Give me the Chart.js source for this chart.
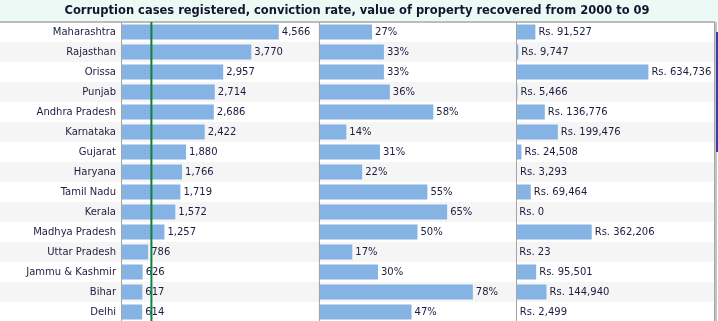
<!DOCTYPE html>
<html>
<head>
<meta charset="utf-8">
<script src="https://cdn.jsdelivr.net/npm/chart.js@4"></script>
<style>
html, body { margin: 0; padding: 0; overflow: hidden; background: #fff; }
#wrap { width: 718px; height: 321px; overflow: hidden; }
</style>
</head>
<body>
<div id="wrap"><canvas id="myBarChart" width="718" height="322"></canvas></div>
<script>
// DADOS
var states = ['Maharashtra', 'Rajasthan', 'Orissa', 'Punjab', 'Andhra Pradesh', 'Karnataka', 'Gujarat',
    'Haryana', 'Tamil Nadu', 'Kerala', 'Madhya Pradesh', 'Uttar Pradesh', 'Jammu & Kashmir', 'Bihar', 'Delhi'];
var cases = [4566, 3770, 2957, 2714, 2686, 2422, 1880, 1766, 1719, 1572, 1257, 786, 626, 617, 614];
var convictionRate = [27, 33, 33, 36, 58, 14, 31, 22, 55, 65, 50, 17, 30, 78, 47];
var propertyRecovered = [91527, 9747, 634736, 5466, 136776, 199476, 24508, 3293, 69464, 0, 362206, 23, 95501, 144940, 2499];
var referenceLine = 880;

var barColor = '#85b3e3';
var textColor = '#1c1c40';

var formats = [
    function (v) { return v.toLocaleString('en-US'); },
    function (v) { return v + '%'; },
    function (v) { return 'Rs. ' + v.toLocaleString('en-US'); }
];

// fundo: faixa do titulo + linhas alternadas
var rowBands = {
    id: 'rowBands',
    beforeDraw: function (chart) {
        var ctx = chart.ctx, area = chart.chartArea;
        var step = (area.bottom - area.top) / states.length;
        ctx.save();
        ctx.fillStyle = '#ebfaf5';
        ctx.fillRect(0, 0, chart.width, area.top);
        for (var i = 0; i < states.length; i++) {
            ctx.fillStyle = i % 2 ? '#f5f5f5' : '#ffffff';
            ctx.fillRect(0, area.top + i * step, area.right, step);
        }
        ctx.fillStyle = '#bcbcbc';
        ctx.fillRect(0, area.top - 1, area.right + 1, 2);
        ctx.restore();
    }
};

// separadores, rotulos e linha verde
var valueLabels = {
    id: 'valueLabels',
    afterDatasetsDraw: function (chart) {
        var ctx = chart.ctx, area = chart.chartArea;
        ctx.save();
        ctx.strokeStyle = '#a6a6a6';
        ctx.lineWidth = 1;
        var xs = [chart.scales.x1.left, chart.scales.x2.left, chart.scales.x3.left, chart.scales.x3.right];
        xs.forEach(function (x) {
            var px = Math.round(x) + 0.5;
            ctx.beginPath();
            ctx.moveTo(px, area.top);
            ctx.lineTo(px, area.bottom);
            ctx.stroke();
        });

        ctx.font = '10px "DejaVu Sans"';
        ctx.fillStyle = textColor;
        ctx.textAlign = 'left';
        ctx.textBaseline = 'middle';
        chart.data.datasets.forEach(function (ds, d) {
            chart.getDatasetMeta(d).data.forEach(function (bar, i) {
                ctx.fillText(formats[d](ds.data[i]), bar.x + 3, bar.y + 0.5);
            });
        });

        var gx = chart.scales.x1.getPixelForValue(referenceLine);
        ctx.strokeStyle = '#13803f';
        ctx.lineWidth = 2;
        ctx.beginPath();
        ctx.moveTo(gx, area.top);
        ctx.lineTo(gx, area.bottom);
        ctx.stroke();

        // barra de rolagem
        ctx.fillStyle = '#c4c4c4';
        ctx.fillRect(715, area.top, 2, area.bottom - area.top);
        ctx.fillStyle = '#3c3ca6';
        ctx.fillRect(716, area.top + 10, 2, 120);
        ctx.restore();
    }
};

var ds = function (values, axis) {
    return {
        data: values,
        xAxisID: axis,
        backgroundColor: barColor,
        borderWidth: 0,
        grouped: false,
        categoryPercentage: 1,
        barPercentage: 0.75
    };
};

var panel = function (max) {
    return { type: 'linear', position: 'bottom', stack: 'panels', stackWeight: 1, min: 0, max: max, display: false };
};

var ctx = document.getElementById('myBarChart').getContext('2d');
var myChart = new Chart(ctx, {
    type: 'bar',
    data: {
        labels: states,
        datasets: [ds(cases, 'x1'), ds(convictionRate, 'x2'), ds(propertyRecovered, 'x3')]
    },
    options: {
        indexAxis: 'y',
        responsive: false,
        animation: false,
        devicePixelRatio: 1,
        layout: { padding: { left: 0, right: 4, top: 0, bottom: 0 } },
        plugins: {
            legend: { display: false },
            tooltip: { enabled: false },
            title: {
                display: true,
                text: 'Corruption cases registered, conviction rate, value of property recovered from 2000 to 09',
                color: '#141430',
                font: { family: 'DejaVu Sans', size: 11.5, weight: 'bold', lineHeight: 1.2 },
                padding: { top: 4, bottom: 4.2 }
            }
        },
        scales: {
            y: {
                type: 'category',
                offset: true,
                grid: { display: false, drawTicks: false },
                border: { display: false },
                ticks: {
                    color: textColor,
                    padding: 5,
                    font: { family: 'DejaVu Sans', size: 10 }
                },
                afterFit: function (scale) {
                    scale.width = 121;
                    scale.paddingTop = 0;
                    scale.paddingBottom = 0;
                }
            },
            x1: panel(5720),
            x2: panel(100),
            x3: panel(950000)
        }
    },
    plugins: [rowBands, valueLabels]
});
</script>
</body>
</html>
